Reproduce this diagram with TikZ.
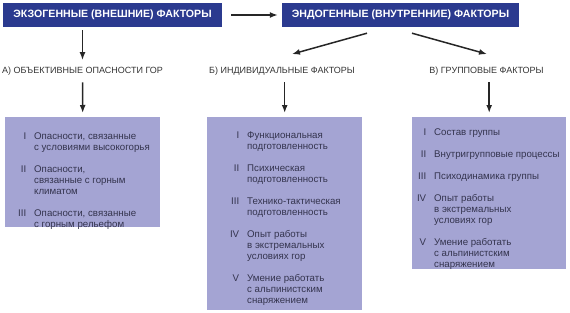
\documentclass[tikz,border=0pt]{standalone}
\usepackage{fontspec}
\setmainfont{Liberation Sans}
\usepackage{tikz}
\usetikzlibrary{arrows.meta, positioning, calc}
\definecolor{hdrblue}{HTML}{2B3A8F}
\definecolor{boxlilac}{HTML}{A4A4D3}
\definecolor{boxtext}{HTML}{34344E}
\definecolor{labgray}{HTML}{333333}
\newcommand{\rn}[1]{\llap{#1\hspace{8pt}}}

\begin{document}
\begin{tikzpicture}[x=1pt, y=-1pt,
    hdr/.style={fill=hdrblue, text=white, minimum height=24pt, inner sep=0pt, font=\fontsize{10.6}{12}\selectfont\bfseries},
    lab/.style={inner sep=0pt, text=labgray, font=\fontsize{9}{10}\selectfont},
    factbox/.style={fill=boxlilac, inner sep=0pt, anchor=north west},
    list/.style={inner sep=0pt, anchor=base west, text=boxtext, font=\fontsize{9.7}{11}\selectfont},
    arrow/.style={-{Latex[length=8pt,width=6pt]}, line width=1.5pt, black!85}
  ]
  \useasboundingbox (0,0) rectangle (570,313);

  % headers
  \node[hdr, minimum width=219pt] (exo) at (112.5,15) {ЭКЗОГЕННЫЕ (ВНЕШНИЕ) ФАКТОРЫ};
  \node[hdr, minimum width=237pt] (endo) at (400.5,15) {ЭНДОГЕННЫЕ (ВНУТРЕННИЕ) ФАКТОРЫ};

  % group labels
  \node[lab] (labA) at (82.5,71) {А) ОБЪЕКТИВНЫЕ ОПАСНОСТИ ГОР};
  \node[lab] (labB) at (282,71) {Б) ИНДИВИДУАЛЬНЫЕ ФАКТОРЫ};
  \node[lab] (labC) at (486.5,71) {В) ГРУППОВЫЕ ФАКТОРЫ};

  % factor boxes
  \node[factbox, minimum width=155pt, minimum height=110pt] (boxA) at (5,117) {};
  \node[factbox, minimum width=155pt, minimum height=193pt] (boxB) at (207,117) {};
  \node[factbox, minimum width=154pt, minimum height=152pt] (boxC) at (412,117) {};

  \node[list] (listA) at ($(boxA.north west)+(29,22)$) {\begin{tabular}[t]{@{}l@{}}
      \rn{I}Опасности, связанные\\ с условиями высокогорья\\[11pt]
      \rn{II}Опасности,\\ связанные с горным\\ климатом\\[11pt]
      \rn{III}Опасности, связанные\\ с горным рельефом
    \end{tabular}};
  \node[list] (listB) at ($(boxB.north west)+(40,21.5)$) {\begin{tabular}[t]{@{}l@{}}
      \rn{I}Функциональная\\ подготовленность\\[11pt]
      \rn{II}Психическая\\ подготовленность\\[11pt]
      \rn{III}Технико-тактическая\\ подготовленность\\[11pt]
      \rn{IV}Опыт работы\\ в экстремальных\\ условиях гор\\[11pt]
      \rn{V}Умение работать\\ с альпинистским\\ снаряжением
    \end{tabular}};
  \node[list] (listC) at ($(boxC.north west)+(22,18)$) {\begin{tabular}[t]{@{}l@{}}
      \rn{I}Состав группы\\[11pt]
      \rn{II}Внутригрупповые процессы\\[11pt]
      \rn{III}Психодинамика группы\\[11pt]
      \rn{IV}Опыт работы\\ в экстремальных\\ условиях гор\\[11pt]
      \rn{V}Умение работать\\ с альпинистским\\ снаряжением
    \end{tabular}};

  % arrows
  \draw[arrow, shorten <=9pt, shorten >=4pt] (exo.east) -- (endo.west);
  \draw[arrow, shorten <=3pt, shorten >=6.5pt] (labA |- exo.south) -- (labA.north);
  \draw[arrow] ([xshift=-33.5pt,yshift=-6pt]endo.south) -- ([xshift=10pt,yshift=12.5pt]labB.north);
  \draw[arrow] ([xshift=11.5pt,yshift=-6pt]endo.south) -- ([xshift=0.5pt,yshift=12.5pt]labC.north);
  \draw[arrow, shorten <=7pt, shorten >=4pt] (labA.south) -- (boxA.north);
  \draw[arrow, shorten <=7pt, shorten >=4pt] (boxB |- labB.south) -- (boxB.north);
  \draw[arrow, shorten <=7pt, shorten >=4pt] (boxC |- labC.south) -- (boxC.north);
\end{tikzpicture}
\end{document}
